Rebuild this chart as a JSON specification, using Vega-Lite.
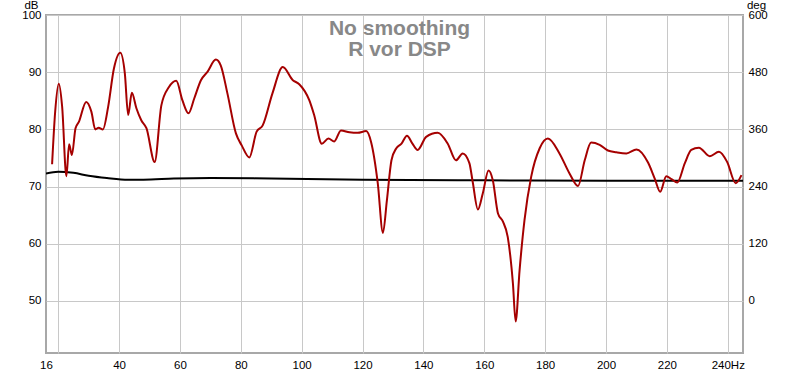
{
  "$schema": "https://vega.github.io/schema/vega-lite/v6.json",
  "autosize": "none",
  "width": 697,
  "height": 338,
  "padding": {"left": 46, "top": 15, "right": 57, "bottom": 21},
  "background": "white",
  "config": {
    "view": {"stroke": "#a8a8a8", "strokeWidth": 2},
    "font": "Liberation Sans",
    "axis": {"labelFont": "Liberation Sans", "labelFontSize": 11.5, "labelColor": "#000", "titleFont": "Liberation Sans", "titleFontWeight": "normal", "titleFontSize": 11.5, "titleColor": "#000", "gridColor": "#c8c8c8", "gridWidth": 1, "gridOpacity": 1, "ticks": false, "domain": false}
  },
  "title": {
    "text": ["No smoothing", "R vor DSP"],
    "anchor": "middle",
    "frame": "group",
    "orient": "top",
    "offset": -61,
    "dx": 5,
    "fontSize": 21,
    "fontWeight": "bold",
    "color": "#888888",
    "font": "Liberation Sans",
    "lineHeight": 21
  },
  "datasets": {
    "resp": [
      {"f": 18.0, "v": 73.9}, {"f": 19.0, "v": 83.0}, {"f": 20.2, "v": 88.0}, {"f": 21.3, "v": 84.0},
      {"f": 22.7, "v": 71.8}, {"f": 23.6, "v": 77.4}, {"f": 24.5, "v": 75.5}, {"f": 25.7, "v": 80.2},
      {"f": 26.8, "v": 81.3}, {"f": 29.2, "v": 84.8}, {"f": 30.9, "v": 83.1}, {"f": 32.2, "v": 80.0},
      {"f": 33.3, "v": 80.3}, {"f": 34.7, "v": 80.0}, {"f": 36.4, "v": 83.9}, {"f": 38.3, "v": 90.6},
      {"f": 40.4, "v": 93.4}, {"f": 41.9, "v": 89.8}, {"f": 43.0, "v": 82.5}, {"f": 44.2, "v": 86.4},
      {"f": 45.7, "v": 83.7}, {"f": 47.3, "v": 81.6}, {"f": 49.0, "v": 80.2}, {"f": 51.7, "v": 74.3},
      {"f": 53.9, "v": 84.2}, {"f": 56.4, "v": 87.4}, {"f": 58.8, "v": 88.5}, {"f": 60.8, "v": 85.1},
      {"f": 62.8, "v": 82.8}, {"f": 64.7, "v": 85.4}, {"f": 66.9, "v": 88.6}, {"f": 69.1, "v": 90.1},
      {"f": 71.8, "v": 92.2}, {"f": 73.4, "v": 91.2}, {"f": 75.6, "v": 86.3}, {"f": 78.4, "v": 79.3},
      {"f": 80.3, "v": 77.2}, {"f": 82.8, "v": 75.1}, {"f": 85.2, "v": 79.6}, {"f": 87.2, "v": 80.7},
      {"f": 90.4, "v": 86.3}, {"f": 93.8, "v": 90.9}, {"f": 97.1, "v": 88.6}, {"f": 99.2, "v": 87.9},
      {"f": 102.5, "v": 85.1}, {"f": 104.1, "v": 82.5}, {"f": 106.6, "v": 77.5}, {"f": 108.8, "v": 78.4},
      {"f": 110.7, "v": 77.9}, {"f": 112.9, "v": 79.8}, {"f": 115.7, "v": 79.5}, {"f": 118.4, "v": 79.4},
      {"f": 121.2, "v": 79.7}, {"f": 122.8, "v": 77.8}, {"f": 125.0, "v": 70.6}, {"f": 126.7, "v": 61.9},
      {"f": 128.0, "v": 67.6}, {"f": 129.5, "v": 74.6}, {"f": 131.1, "v": 76.7}, {"f": 132.8, "v": 77.5},
      {"f": 134.6, "v": 78.9}, {"f": 136.4, "v": 77.5}, {"f": 138.1, "v": 76.4}, {"f": 140.9, "v": 78.7},
      {"f": 144.7, "v": 79.4}, {"f": 148.0, "v": 77.5}, {"f": 150.7, "v": 74.6}, {"f": 152.9, "v": 75.8},
      {"f": 155.1, "v": 74.1}, {"f": 156.2, "v": 70.8}, {"f": 157.9, "v": 66.0}, {"f": 159.5, "v": 68.8},
      {"f": 161.4, "v": 72.8}, {"f": 162.8, "v": 71.1}, {"f": 164.5, "v": 65.3}, {"f": 166.1, "v": 63.9},
      {"f": 167.7, "v": 61.2}, {"f": 169.4, "v": 53.1}, {"f": 170.3, "v": 46.4}, {"f": 171.6, "v": 55.4},
      {"f": 173.2, "v": 64.1}, {"f": 175.4, "v": 71.7}, {"f": 178.2, "v": 76.7}, {"f": 180.9, "v": 78.4},
      {"f": 184.7, "v": 75.8}, {"f": 188.0, "v": 72.3}, {"f": 190.8, "v": 70.1}, {"f": 193.0, "v": 74.6},
      {"f": 195.1, "v": 77.7}, {"f": 197.9, "v": 77.3}, {"f": 200.6, "v": 76.3}, {"f": 203.4, "v": 76.0},
      {"f": 206.7, "v": 75.8}, {"f": 210.0, "v": 76.5}, {"f": 213.8, "v": 74.2}, {"f": 216.0, "v": 71.4},
      {"f": 217.8, "v": 69.1}, {"f": 219.8, "v": 71.8}, {"f": 221.5, "v": 71.3}, {"f": 223.4, "v": 70.7},
      {"f": 225.9, "v": 74.1}, {"f": 228.0, "v": 76.4}, {"f": 230.5, "v": 76.8}, {"f": 234.1, "v": 75.3},
      {"f": 237.1, "v": 76.1}, {"f": 239.8, "v": 74.3}, {"f": 242.6, "v": 70.6}, {"f": 244.5, "v": 72.0}
    ],
    "base": [
      {"f": 16, "v": 72.3}, {"f": 20, "v": 72.6}, {"f": 25, "v": 72.4}, {"f": 30, "v": 71.9},
      {"f": 36, "v": 71.5}, {"f": 43, "v": 71.2}, {"f": 48, "v": 71.2}, {"f": 58, "v": 71.4},
      {"f": 70, "v": 71.5}, {"f": 90, "v": 71.4}, {"f": 120, "v": 71.2}, {"f": 160, "v": 71.1},
      {"f": 200, "v": 71.0}, {"f": 245, "v": 71.0}
    ]
  },
  "resolve": {"axis": {"x": "independent", "y": "independent"}},
  "layer": [
    {
      "data": {"name": "base"},
      "mark": {"type": "line", "color": "#000000", "strokeWidth": 2, "interpolate": "monotone", "clip": true},
      "encoding": {
        "x": {"field": "f", "type": "quantitative", "scale": {"domain": [16, 245], "nice": false, "zero": false},
              "axis": {"orient": "bottom", "values": [20, 40, 60, 80, 100, 120, 140, 160, 180, 200, 220, 240], "labels": false, "title": null, "grid": true}},
        "y": {"field": "v", "type": "quantitative", "scale": {"domain": [40.9, 100], "nice": false, "zero": false},
              "axis": {"orient": "right", "grid": false, "values": [50, 60, 70, 80, 90, 100], "labelExpr": "format((datum.value-50)*12,'d')", "labelPadding": 5,
                       "title": "deg", "titleAngle": 0, "titleAlign": "center", "titleBaseline": "alphabetic", "titleX": 13, "titleY": -7}}
      }
    },
    {
      "data": {"name": "resp"},
      "mark": {"type": "line", "color": "#a50000", "strokeWidth": 2, "interpolate": "monotone", "clip": true},
      "encoding": {
        "x": {"field": "f", "type": "quantitative", "scale": {"domain": [16, 245], "nice": false, "zero": false},
              "axis": {"orient": "bottom", "values": [16, 40, 60, 80, 100, 120, 140, 160, 180, 200, 220, 240], "grid": false, "title": null, "labelPadding": 6,
                       "labelExpr": "datum.value == 240 ? '240Hz' : datum.label", "labelFlush": false}},
        "y": {"field": "v", "type": "quantitative", "scale": {"domain": [40.9, 100], "nice": false, "zero": false},
              "axis": {"orient": "left", "grid": true, "values": [50, 60, 70, 80, 90, 100], "labelPadding": 5,
                       "title": "dB", "titleAngle": 0, "titleAlign": "center", "titleBaseline": "alphabetic", "titleX": -15, "titleY": -7}}
      }
    }
  ]
}
